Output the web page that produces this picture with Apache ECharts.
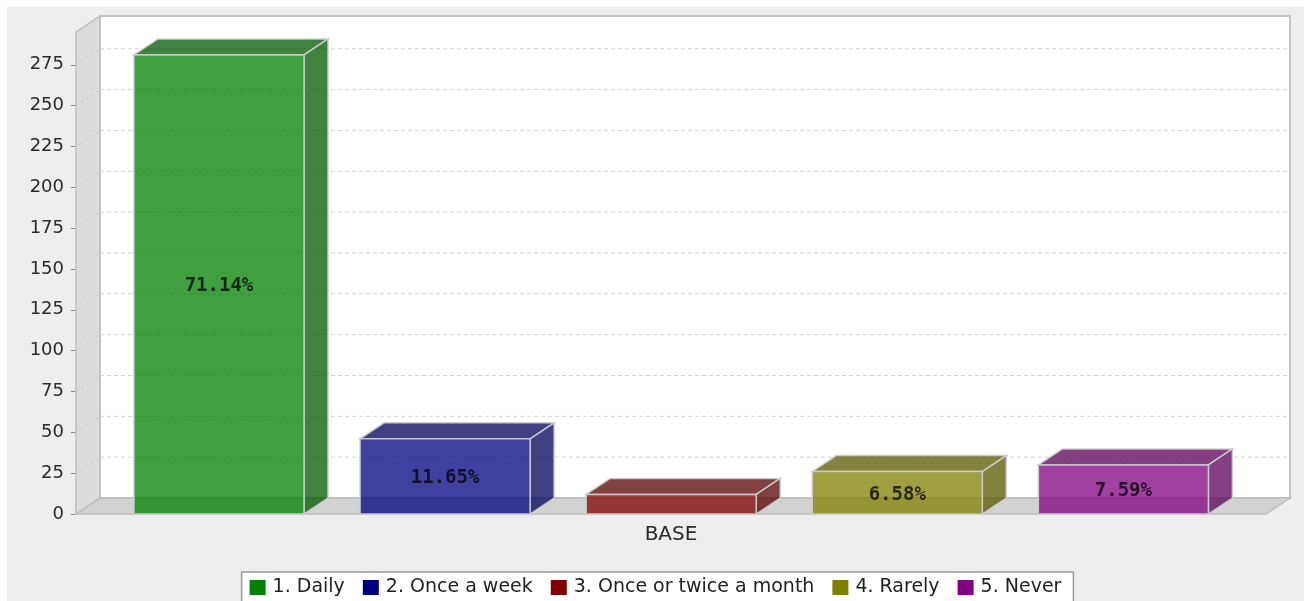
<!DOCTYPE html>
<html>
<head>
<meta charset="utf-8">
<script src="https://cdn.jsdelivr.net/npm/echarts@6/dist/echarts.min.js"></script>
<style>
  html, body { margin: 0; padding: 0; background: #ffffff; }
  #chart { position: absolute; left: 7px; top: 7px; width: 1297px; height: 594px; background: #eeeeee; }
</style>
</head>
<body>
<div id="chart"></div>
<script>
// Survey answers for the single category, one series per answer
const categories = ['BASE'];
const seriesNames = ['1. Daily', '2. Once a week', '3. Once or twice a month', '4. Rarely', '5. Never'];
const seriesValues = [281, 46, 12, 26, 30];
const seriesColors = ['#008000', '#000080', '#800000', '#808000', '#800080'];
const yTicks = [0, 25, 50, 75, 100, 125, 150, 175, 200, 225, 250, 275];

// 3D look: depth of walls and bars
const DEPTH_X = 24;
const DEPTH_Y = 16;
// bar layout inside the category band
const EDGE_FRAC = 0.0487;
const BAR_FRAC = 0.1429;
const GAP_FRAC = 0.0471;
const FACE_ALPHA = 0.75;

const total = seriesValues.reduce((a, b) => a + b, 0);
const yMax = Math.max(...seriesValues) * 1.05;

function hexRgb(hex) {
  const n = parseInt(hex.slice(1), 16);
  return [(n >> 16) & 255, (n >> 8) & 255, n & 255];
}
function rgba(rgb, k, a) {
  return 'rgba(' + rgb.map(c => Math.round(c * k)).join(',') + ',' + a + ')';
}

// Back wall, left wall, floor and grid lines of the 3D plot box
function renderWalls(params, api) {
  const cs = params.coordSys;
  const x = cs.x, y = cs.y, w = cs.width, h = cs.height;
  const children = [];
  children.push({
    type: 'rect',
    shape: { x: x + DEPTH_X, y: y - DEPTH_Y, width: w, height: h },
    style: { fill: '#ffffff', stroke: '#c4c4c4', lineWidth: 2 }
  });
  children.push({
    type: 'polygon',
    shape: { points: [[x, y], [x + DEPTH_X, y - DEPTH_Y], [x + DEPTH_X, y + h - DEPTH_Y], [x, y + h]] },
    style: { fill: '#dcdcdc', stroke: '#bdbdbd', lineWidth: 1.5 }
  });
  children.push({
    type: 'polygon',
    shape: { points: [[x, y + h], [x + DEPTH_X, y + h - DEPTH_Y], [x + w + DEPTH_X, y + h - DEPTH_Y], [x + w, y + h]] },
    style: { fill: '#d2d2d2', stroke: '#bcbcbc', lineWidth: 1.5 }
  });
  yTicks.forEach(v => {
    if (v === 0) return;
    const p = api.coord([0, v]);
    children.push({
      type: 'line',
      shape: { x1: x + DEPTH_X, y1: p[1] - DEPTH_Y, x2: x + w + DEPTH_X - 1, y2: p[1] - DEPTH_Y },
      style: { stroke: '#d4d4d4', lineWidth: 1, lineDash: [4, 3] }
    });
    children.push({
      type: 'line',
      shape: { x1: x, y1: p[1], x2: x + DEPTH_X, y2: p[1] - DEPTH_Y },
      style: { stroke: '#cbcbcb', lineWidth: 1, lineDash: [3, 3] }
    });
  });
  return { type: 'group', children: children };
}

// One 3D bar per series, placed side by side in the category band
function makeBarRenderer(idx) {
  const rgb = hexRgb(seriesColors[idx]);
  return function (params, api) {
    const cat = api.value(0);
    const val = api.value(1);
    const base = api.coord([cat, 0]);
    const top = api.coord([cat, val]);
    const band = api.size([1, 0])[0];
    const left = base[0] - band / 2;
    const bw = band * BAR_FRAC;
    const x = left + band * EDGE_FRAC + idx * band * (BAR_FRAC + GAP_FRAC);
    const yT = top[1], yB = base[1];
    const edge = 'rgba(205,205,205,0.95)';
    const children = [
      {
        type: 'polygon',
        shape: { points: [[x, yT], [x + DEPTH_X, yT - DEPTH_Y], [x + bw + DEPTH_X, yT - DEPTH_Y], [x + bw, yT]] },
        style: { fill: rgba(rgb, 0.7, FACE_ALPHA), stroke: edge, lineWidth: 1.5 }
      },
      {
        type: 'polygon',
        shape: { points: [[x + bw, yT], [x + bw + DEPTH_X, yT - DEPTH_Y], [x + bw + DEPTH_X, yB - DEPTH_Y], [x + bw, yB]] },
        style: { fill: rgba(rgb, 0.7, FACE_ALPHA), stroke: edge, lineWidth: 1.5 }
      },
      {
        type: 'rect',
        shape: { x: x, y: yT, width: bw, height: yB - yT },
        style: { fill: rgba(rgb, 1, FACE_ALPHA), stroke: edge, lineWidth: 1.5 }
      }
    ];
    if (yB - yT >= 30) {
      children.push({
        type: 'text',
        style: {
          text: (val / total * 100).toFixed(2) + '%',
          x: x + bw / 2,
          y: (yT + yB) / 2 + 2,
          align: 'center',
          verticalAlign: 'middle',
          font: 'bold 19px "DejaVu Sans Mono"',
          fill: 'rgba(0,0,0,0.75)'
        }
      });
    }
    return { type: 'group', children: children };
  };
}

const series = [{
  type: 'custom',
  name: 'walls',
  z: 1,
  silent: true,
  renderItem: renderWalls,
  data: [[0, 0]],
  encode: { x: 0, y: 1 }
}];
seriesNames.forEach((name, i) => {
  series.push({
    type: 'custom',
    name: name,
    z: 2,
    itemStyle: { color: seriesColors[i] },
    renderItem: makeBarRenderer(i),
    data: [[0, seriesValues[i]]],
    encode: { x: 0, y: 1 }
  });
});

const chart = echarts.init(document.getElementById('chart'), null, { renderer: 'canvas' });
chart.setOption({
  animation: false,
  color: seriesColors,
  textStyle: { fontFamily: 'DejaVu Sans' },
  grid: { left: 69, right: 38, top: 25, bottom: 87, containLabel: false },
  xAxis: {
    type: 'category',
    data: categories,
    axisLine: { show: false },
    axisTick: { show: false },
    axisLabel: { fontSize: 20, color: '#2a2a2a', margin: 11, fontFamily: 'DejaVu Sans' },
    splitLine: { show: false }
  },
  yAxis: {
    type: 'value',
    min: 0,
    max: yMax,
    interval: 25,
    axisLine: { show: true, lineStyle: { color: '#a8a8a8', width: 1 } },
    axisTick: { show: true, length: 5, lineStyle: { color: '#888888' }, customValues: yTicks },
    axisLabel: { fontSize: 18, color: '#2a2a2a', margin: 12, fontFamily: 'DejaVu Sans', customValues: yTicks },
    splitLine: { show: false }
  },
  legend: {
    data: seriesNames,
    left: 'center',
    top: 565,
    icon: 'rect',
    itemWidth: 16,
    itemHeight: 15,
    itemGap: 18,
    padding: [6, 12, 8, 8],
    borderColor: '#999999',
    borderWidth: 1.5,
    borderRadius: 0,
    backgroundColor: '#ffffff',
    textStyle: { fontSize: 19, color: '#222222', fontFamily: 'DejaVu Sans', padding: [0, 0, 0, 2] }
  },
  series: series
});
</script>
</body>
</html>
